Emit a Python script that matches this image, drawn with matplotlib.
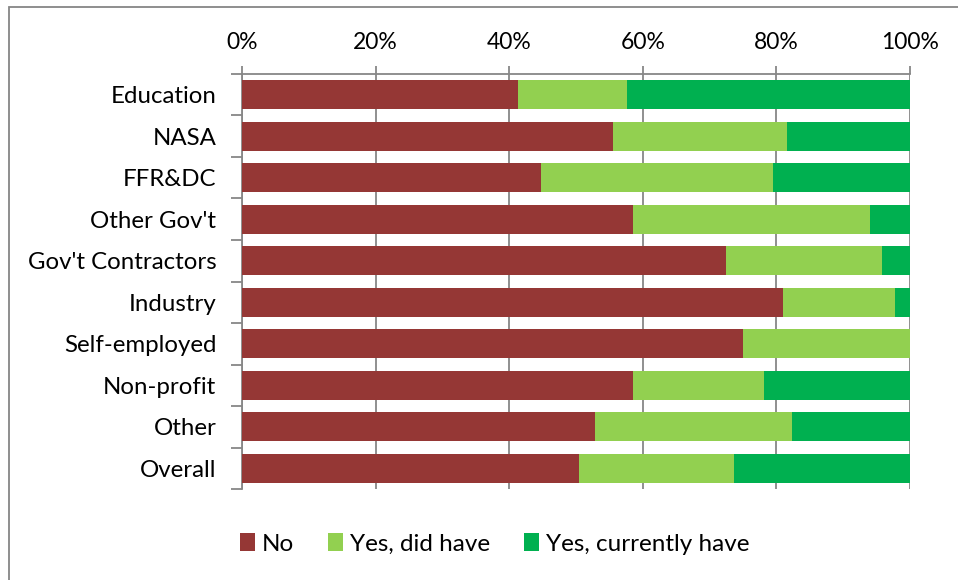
import matplotlib
matplotlib.use("Agg")
import matplotlib.pyplot as plt
import numpy as np
from matplotlib.patches import Rectangle

plt.rcParams['font.family'] = ['Lato', 'DejaVu Sans']

categories = ["Education", "NASA", "FFR&DC", "Other Gov't", "Gov't Contractors",
              "Industry", "Self-employed", "Non-profit", "Other", "Overall"]
no_pct = [41.3, 55.6, 44.8, 58.6, 72.4, 81.0, 75.0, 58.6, 52.9, 50.5]
did_have_pct = [16.4, 26.0, 34.7, 35.4, 23.4, 16.7, 25.0, 19.5, 29.5, 23.1]
currently_pct = [42.3, 18.4, 20.5, 6.0, 4.2, 2.3, 0.0, 21.9, 17.6, 26.4]
series_names = ["No", "Yes, did have", "Yes, currently have"]
colors = ["#953735", "#92D050", "#00B050"]
xtick_vals = [0, 20, 40, 60, 80, 100]
xtick_labels = ["0%", "20%", "40%", "60%", "80%", "100%"]

W, H = 958, 580
fig = plt.figure(figsize=(W / 100, H / 100), dpi=100)

# outer chart frame (top and left edges visible)
fig.patches.append(Rectangle((9 / W, -0.1), 1.2, (H - 7) / H + 0.1,
                             transform=fig.transFigure, fill=False,
                             edgecolor="#868686", linewidth=1.3))

left, right, top, bottom = 242, 910, 74, 489
ax = fig.add_axes([left / W, (H - bottom) / H, (right - left) / W, (bottom - top) / H])

y = np.arange(len(categories))
series = [no_pct, did_have_pct, currently_pct]
lefts = np.zeros(len(categories))
handles = []
for vals, c, name in zip(series, colors, series_names):
    vals = np.array(vals)
    h = ax.barh(y, vals, left=lefts, height=0.7, color=c, label=name, zorder=3)
    handles.append(h)
    lefts += vals

ax.set_xlim(0, 100)
ax.set_ylim(len(categories) - 0.5, -0.5)

grid_c = "#878787"
ax.xaxis.tick_top()
ax.set_xticks(xtick_vals)
ax.set_xticklabels(xtick_labels, fontsize=16.5)
ax.tick_params(axis='x', which='major', direction='out', length=6, width=1.3,
               color=grid_c, pad=9, labelcolor="black")
ax.grid(axis='x', color=grid_c, linewidth=1.3, zorder=0)
ax.set_axisbelow(True)

ax.set_yticks(y)
ax.set_yticklabels(categories, fontsize=17.3)
ax.set_yticks(np.arange(-0.5, len(categories) + 0.5, 1), minor=True)
ax.tick_params(axis='y', which='major', length=0, pad=18.5)
ax.tick_params(axis='y', which='minor', direction='out', length=8, width=1.3, color=grid_c)

for s in ["right", "bottom"]:
    ax.spines[s].set_visible(False)
for s in ["left", "top"]:
    ax.spines[s].set_color(grid_c)
    ax.spines[s].set_linewidth(1.3)

fig.legend(handles=handles, labels=series_names, loc="center",
           bbox_to_anchor=(495 / W, 1 - 544 / H), ncol=3, frameon=False,
           fontsize=17.5, handlelength=0.6, handleheight=0.75, handletextpad=0.3,
           columnspacing=1.4)

fig.savefig("out.png", dpi=100)
